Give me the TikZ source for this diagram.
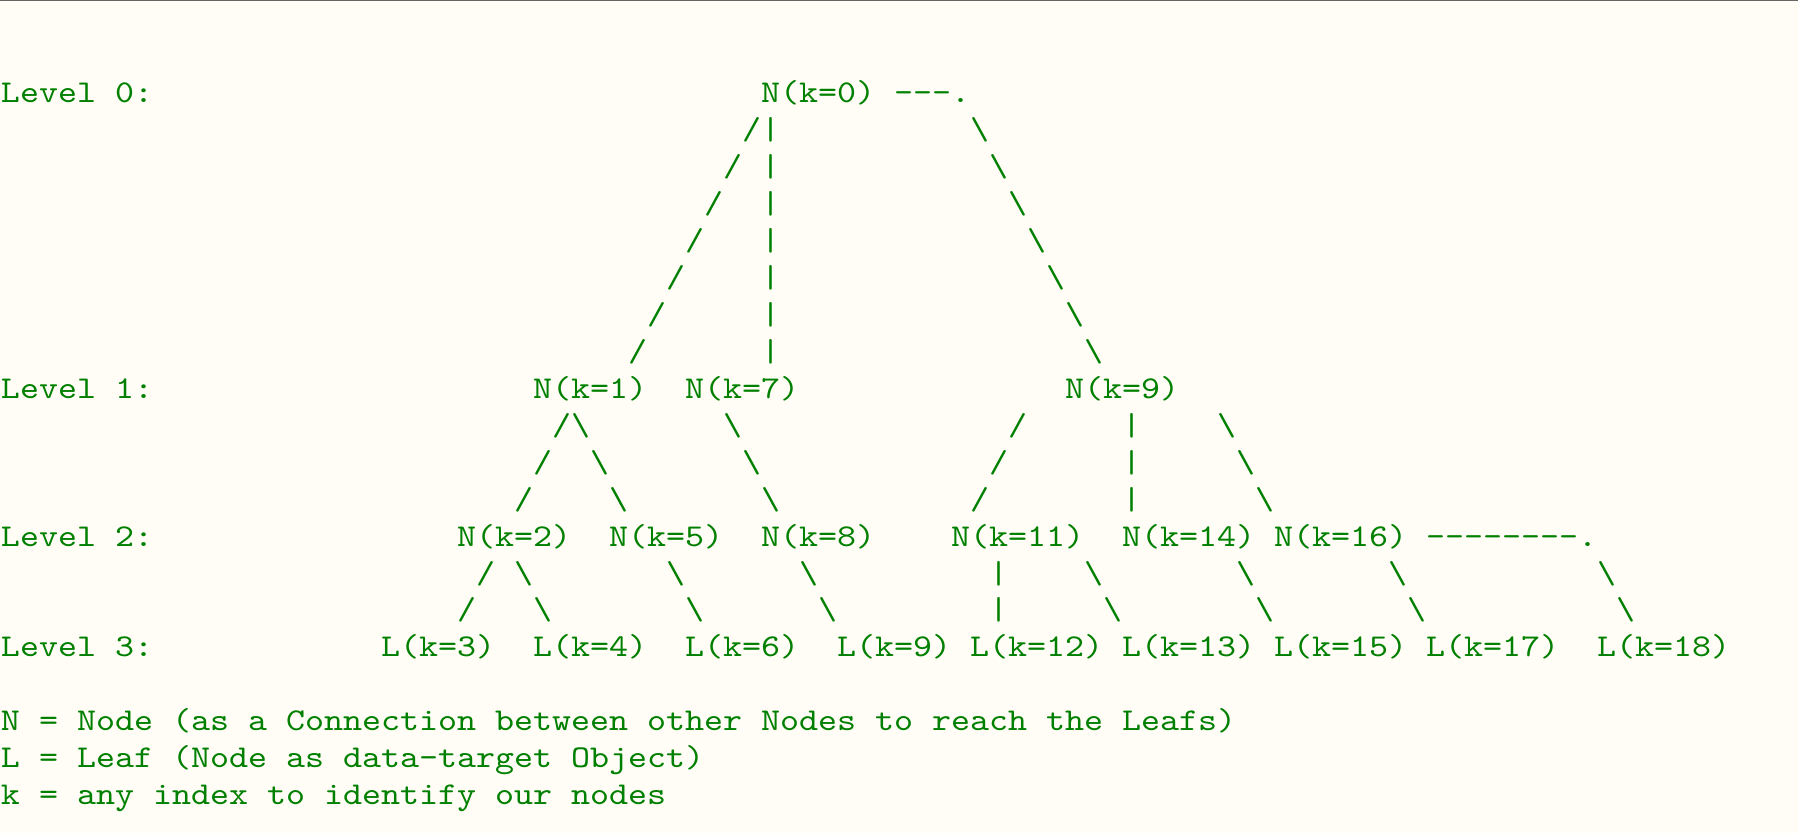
\documentclass[tikz,border=0pt]{standalone}
\usepackage{fontspec}
\setmonofont{lmmono10-regular.otf}[FakeStretch=1.14]
\usetikzlibrary{calc}
\definecolor{termgreen}{RGB}{0,128,0}
\definecolor{paper}{RGB}{255,253,245}
\definecolor{rulegray}{RGB}{102,102,102}

% one glyph on every text row between two nodes
\newcommand{\treebranch}[6]{%
  \path (#2.base west) ++(#3,0) coordinate (bs) (#4.base west) ++(#5,0) coordinate (be);
  \pgfmathtruncatemacro{\brlast}{#6-1}
  \foreach \i in {1,...,\brlast}
    \node[glyph] at ($(bs)!\i/#6!(be)$) {#1};
}

\begin{document}
\begin{tikzpicture}[
  x=9.5pt, y=-18.475pt,
  lbl/.style={anchor=base west, inner sep=0pt, outer sep=0pt, text=termgreen,
    font=\fontsize{15.875pt}{18.475pt}\selectfont\ttfamily},
  glyph/.style={lbl}
]
\useasboundingbox (-0.5pt,51.35pt) rectangle (898.5pt,-365.15pt);
\fill[paper] (-0.5pt,51.35pt) rectangle (898.5pt,-365.15pt);
\draw[rulegray, line width=0.7pt] (-0.5pt,51pt) -- (898.5pt,51pt);

% level captions
\node[lbl] (lv0) at (0,0) {Level 0:};
\node[lbl] (lv1) at (0,8) {Level 1:};
\node[lbl] (lv2) at (0,12) {Level 2:};
\node[lbl] (lv3) at (0,15) {Level 3:};

% nodes
\node[lbl] (n0) at (40,0) {N(k=0)};
\node[lbl] (n1) at (28,8) {N(k=1)};
\node[lbl] (n7) at (36,8) {N(k=7)};
\node[lbl] (n9) at (56,8) {N(k=9)};
\node[lbl] (n2) at (24,12) {N(k=2)};
\node[lbl] (n5) at (32,12) {N(k=5)};
\node[lbl] (n8) at (40,12) {N(k=8)};
\node[lbl] (n11) at (50,12) {N(k=11)};
\node[lbl] (n14) at (59,12) {N(k=14)};
\node[lbl] (n16) at (67,12) {N(k=16)};

% leafs
\node[lbl] (l3) at (20,15) {L(k=3)};
\node[lbl] (l4) at (28,15) {L(k=4)};
\node[lbl] (l6) at (36,15) {L(k=6)};
\node[lbl] (l9) at (44,15) {L(k=9)};
\node[lbl] (l12) at (51,15) {L(k=12)};
\node[lbl] (l13) at (59,15) {L(k=13)};
\node[lbl] (l15) at (67,15) {L(k=15)};
\node[lbl] (l17) at (75,15) {L(k=17)};
\node[lbl] (l18) at (84,15) {L(k=18)};

% level 0 -> 1
\treebranch{/}{n0}{0}{n1}{4}{8}
\treebranch{|}{n0}{0}{n7}{4}{8}
\foreach \c in {7,8,9}
  \node[glyph] at ($(n0.base west)+(\c,0)$) {-};
\node[glyph] (d0) at ($(n0.base west)+(10,0)$) {.};
\treebranch{\textbackslash}{d0}{0}{n9}{2}{8}

% level 1 -> 2
\treebranch{/}{n1}{2}{n2}{2}{4}
\treebranch{\textbackslash}{n1}{1}{n5}{1}{4}
\treebranch{\textbackslash}{n7}{1}{n8}{1}{4}
\treebranch{/}{n9}{-2}{n11}{0}{4}
\treebranch{|}{n9}{3}{n14}{0}{4}
\treebranch{\textbackslash}{n9}{7}{n16}{0}{4}

% level 2 -> 3
\treebranch{/}{n2}{2}{l3}{3}{3}
\treebranch{\textbackslash}{n2}{2}{l4}{1}{3}
\treebranch{\textbackslash}{n5}{2}{l6}{1}{3}
\treebranch{\textbackslash}{n8}{1}{l9}{0}{3}
\treebranch{|}{n11}{2}{l12}{1}{3}
\treebranch{\textbackslash}{n11}{6}{l13}{0}{3}
\treebranch{\textbackslash}{n14}{5}{l15}{0}{3}
\treebranch{\textbackslash}{n16}{5}{l17}{0}{3}
\foreach \c in {8,...,15}
  \node[glyph] at ($(n16.base west)+(\c,0)$) {-};
\node[glyph] (d16) at ($(n16.base west)+(16,0)$) {.};
\treebranch{\textbackslash}{d16}{0}{l18}{2}{3}

% legend
\node[lbl] (leg1) at (0,17) {N = Node (as a Connection between other Nodes to reach the Leafs)};
\node[lbl] (leg2) at (0,18) {L = Leaf (Node as data-target Object)};
\node[lbl] (leg3) at (0,19) {k = any index to identify our nodes};
\end{tikzpicture}
\end{document}
